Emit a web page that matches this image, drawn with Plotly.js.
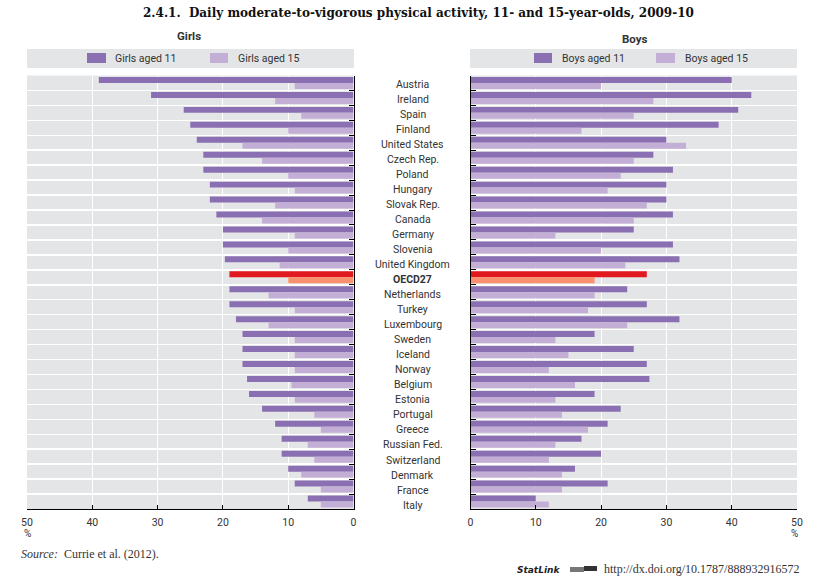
<!DOCTYPE html>
<html><head><meta charset="utf-8">
<script src="https://cdn.plot.ly/plotly-3.0.1.min.js"></script>
<style>html,body{margin:0;padding:0;background:#fff}#c{width:813px;height:587px}</style>
</head><body><div id="c"></div>
<script>
const categories=["Austria","Ireland","Spain","Finland","United States","Czech Rep.","Poland","Hungary","Slovak Rep.","Canada","Germany","Slovenia","United Kingdom","OECD27","Netherlands","Turkey","Luxembourg","Sweden","Iceland","Norway","Belgium","Estonia","Portugal","Greece","Russian Fed.","Switzerland","Denmark","France","Italy"];
const girls11=[39,31,26,25,24,23,23,22,22,21,20,20,19.7,19,19,19,18,17,17,17,16.3,16,14,12,11,11,10,9,7];
const girls15=[9,12,8,10,17,14,10,9,12,14,9,10,11.3,10,13,9,13,9,9,9,9.5,9,6,5,7,6,8,5,5];
const boys11=[40,43,41,38,30,28,31,30,30,31,25,31,32,27,24,27,32,19,25,27,27.4,19,23,21,17,20,16,21,10];
const boys15=[20,28,25,17,33,25,23,21,27,25,13,20,23.7,19,19,18,24,13,15,12,16,13,14,18,13,12,14,14,12];
const xTicks=[0,10,20,30,40,50];
const W=813,H=587;
const DARK="#8a70b2",LIGHT="#c3aed5",OECD_D="#e2181f",OECD_L="#f9916f",BG="#e4e5e7";
const NARROW='Roboto,"Liberation Sans",sans-serif';
const SERIF='"DejaVu Serif",serif';
const TXT="#333333";
const px=v=>v/W, py=v=>1-v/H;
const colors=(c,o)=>categories.map(k=>k==="OECD27"?o:c);
function bar(name,x,c,o,xa,ya){return {type:"bar",orientation:"h",name,y:categories,x,xaxis:xa,yaxis:ya,showlegend:false,
 marker:{color:colors(c,o),line:{width:0}},hoverinfo:"x+y+name"};}
const data=[
 bar("Girls aged 11",girls11,DARK,OECD_D,"x","y"),
 bar("Girls aged 15",girls15,LIGHT,OECD_L,"x","y"),
 bar("Boys aged 11",boys11,DARK,OECD_D,"x2","y2"),
 bar("Boys aged 15",boys15,LIGHT,OECD_L,"x2","y2")
];
const xBase={tickvals:xTicks,ticktext:xTicks.map(String),ticks:"inside",ticklen:4,tickcolor:"#000",tickwidth:1,showline:true,linecolor:"#000",linewidth:1,
 showgrid:true,gridcolor:"#fff",gridwidth:1,zeroline:false,ticklabelstandoff:3,tickfont:{family:NARROW,size:10.5,color:TXT},fixedrange:true};
const yBase={type:"category",categoryorder:"array",categoryarray:categories,range:[28.5,-0.5],showticklabels:false,ticks:"inside",ticklen:5,tickcolor:"#000",tickwidth:1,
 tickmode:"linear",tick0:0,dtick:1,tickson:"boundaries",showline:true,linecolor:"#000",linewidth:1,showgrid:true,gridcolor:"#fff",gridwidth:1.5,zeroline:false,fixedrange:true};
const plotTop=75.5,plotBot=509;
const rect=(x0,x1,y0,y1,c)=>({type:"rect",xref:"paper",yref:"paper",x0:px(x0),x1:px(x1),y0:py(y1),y1:py(y0),fillcolor:c,line:{width:0},layer:"below"});
const note=(text,x,y,o={})=>Object.assign({text,xref:"paper",yref:"paper",x:px(x),y:py(y),xanchor:"center",yanchor:"middle",showarrow:false,borderpad:0,
 font:{family:NARROW,size:10.5,color:TXT}},o);
const catNotes=categories.map((k,i)=>note(k==="OECD27"?"<b>OECD27</b>":k,412.5,84+i*15.04));
const layout={width:W,height:H,margin:{l:0,r:0,t:0,b:0},paper_bgcolor:"#fff",plot_bgcolor:BG,barmode:"group",bargap:0.2,bargroupgap:0,
 xaxis:Object.assign({},xBase,{domain:[px(27),px(353.5)],range:[50,0],anchor:"y"}),
 yaxis:Object.assign({},yBase,{domain:[py(plotBot),py(plotTop)],anchor:"x",side:"right"}),
 xaxis2:Object.assign({},xBase,{domain:[px(470.5),px(797)],range:[0,50],anchor:"y2"}),
 yaxis2:Object.assign({},yBase,{domain:[py(plotBot),py(plotTop)],anchor:"x2",side:"left"}),
 shapes:[
  rect(27,354,49,68,BG),rect(470,797,49,68,BG),
  rect(87,106,53,63,DARK),rect(210,228,53,63,LIGHT),
  rect(534,552,53,63,DARK),rect(656,675,53,63,LIGHT),
  rect(570,584,567,572,"#777777"),rect(584,597,566,571,"#333333")
 ],
 annotations:[
  note("<b>2.4.1.  Daily moderate-to-vigorous physical activity, 11- and 15-year-olds, 2009-10</b>",418,13,{font:{family:SERIF,size:12,color:"#111"}}),
  note("<b>Girls</b>",189,36,{font:{family:NARROW,size:11.5,color:TXT}}),note("<b>Boys</b>",635,39,{font:{family:NARROW,size:11.5,color:TXT}}),
  note("Girls aged 11",114,59,{xanchor:"left"}),note("Girls aged 15",237,59,{xanchor:"left"}),
  note("Boys aged 11",561,59,{xanchor:"left"}),note("Boys aged 15",684,59,{xanchor:"left"}),
  note("%",27.5,533.5,{font:{family:NARROW,size:10,color:TXT}}),note("%",794,533.5,{font:{family:NARROW,size:10,color:TXT}}),
  note("<i>Source:</i>  Currie et al. (2012).",20,554,{xanchor:"left",font:{family:'"Liberation Serif",serif',size:12,color:TXT}}),
  note("<b><i>StatLink</i></b>",516,570,{xanchor:"left",font:{family:"DejaVu Sans",size:9,color:"#222"}}),
  note("http://dx.doi.org/10.1787/888932916572",800,569,{xanchor:"right",font:{family:'"Liberation Serif",serif',size:12,color:TXT}})
 ].concat(catNotes)
};
Plotly.newPlot("c",data,layout,{displayModeBar:false,staticPlot:true});
</script></body></html>
